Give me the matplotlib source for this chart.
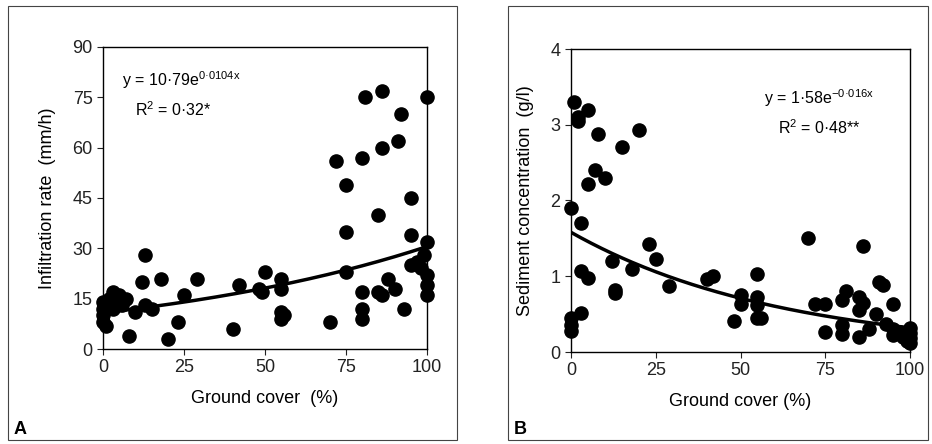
import numpy as np
import matplotlib
matplotlib.use("Agg")
import matplotlib.pyplot as plt
from matplotlib.patches import Rectangle

plt.rcParams['font.family'] = ['Liberation Sans', 'DejaVu Sans']
plt.rcParams['mathtext.fontset'] = 'custom'
plt.rcParams['mathtext.rm'] = 'Liberation Sans'

ax_x = [0,0,0,0,1,1,2,3,3,4,5,6,7,8,10,12,13,13,15,18,20,23,25,29,40,42,48,49,50,55,55,55,55,56,70,72,75,75,75,80,80,80,80,81,85,85,86,86,86,88,90,91,92,93,95,95,95,97,98,99,100,100,100,100,100]
ax_y = [14,12,10,8,7,13,15,17,12,14,16,13,15,4,11,20,28,13,12,21,3,8,16,21,6,19,18,17,23,21,18,11,9,10,8,56,49,35,23,57,17,12,9,75,40,17,16,60,77,21,18,62,70,12,45,34,25,26,24,28,75,32,22,19,16]
bx_x = [0,0,0,0,1,2,2,5,8,15,20,7,10,5,3,3,5,3,12,13,13,18,23,25,29,40,42,48,50,50,55,55,55,55,56,70,72,75,75,80,81,80,80,85,86,85,85,86,88,90,91,92,93,95,95,95,97,98,99,100,100,100,100]
bx_y = [1.9,0.45,0.35,0.28,3.3,3.1,3.05,3.2,2.88,2.7,2.93,2.4,2.3,2.22,1.7,1.07,0.98,0.52,1.2,0.78,0.82,1.1,1.42,1.23,0.87,0.97,1.0,0.41,0.75,0.63,1.03,0.72,0.62,0.45,0.45,1.5,0.63,0.63,0.27,0.68,0.8,0.35,0.24,0.72,0.65,0.55,0.2,1.4,0.3,0.5,0.93,0.88,0.37,0.64,0.3,0.22,0.26,0.2,0.15,0.32,0.25,0.18,0.12]
a_coef, a_rate = 10.79, 0.0104
b_coef, b_rate = 1.58, -0.016

fig = plt.figure(figsize=(9.32, 4.44), dpi=100)
for x0, x1 in [(8, 457), (508, 928)]:
    fig.patches.append(Rectangle((x0/932, 4/444), (x1-x0)/932, 434/444, transform=fig.transFigure,
                                 fill=False, edgecolor='#444444', lw=0.8))

axA = fig.add_axes([103/932, 95/444, 324/932, 302/444])
axB = fig.add_axes([571/932, 92/444, 339/932, 303/444])
xx = np.linspace(0, 100, 200)

for ax, xs, ys, c, r in [(axA, ax_x, ax_y, a_coef, a_rate), (axB, bx_x, bx_y, b_coef, b_rate)]:
    ax.scatter(xs, ys, s=90, color='black', zorder=3, clip_on=False)
    ax.plot(xx, c*np.exp(r*xx), color='black', lw=2.5, zorder=4)
    ax.set_xlim(0, 100)
    ax.set_xticks([0, 25, 50, 75, 100])
    ax.tick_params(direction='out', labelsize=13, length=4, colors='#222222')
    for s in ax.spines.values():
        s.set_linewidth(1.0)

axA.set_ylim(0, 90)
axA.set_yticks(range(0, 91, 15))
axA.set_ylabel('Infiltration rate  (mm/h)', fontsize=13, labelpad=12)
axA.set_xlabel('Ground cover  (%)', fontsize=13, labelpad=10)
axA.text(0.06, 0.87, r'y = 10·79e$^{\mathrm{0·0104x}}$', transform=axA.transAxes, fontsize=11.5)
axA.text(0.10, 0.77, r'R$^{\mathrm{2}}$ = 0·32*', transform=axA.transAxes, fontsize=11.5)

axB.set_ylim(0, 4)
axB.set_yticks(range(0, 5))
axB.set_ylabel('Sediment concentration  (g/l)', fontsize=13, labelpad=12)
axB.set_xlabel('Ground cover (%)', fontsize=13, labelpad=10)
axB.text(0.57, 0.82, r'y = 1·58e$^{\mathrm{-0·016x}}$', transform=axB.transAxes, fontsize=11.5)
axB.text(0.61, 0.72, r'R$^{\mathrm{2}}$ = 0·48**', transform=axB.transAxes, fontsize=11.5)

fig.text(14/932, 1-434/444, 'A', fontsize=13, fontweight='bold', va='baseline')
fig.text(514/932, 1-434/444, 'B', fontsize=13, fontweight='bold', va='baseline')

fig.savefig('out.png', dpi=100)
